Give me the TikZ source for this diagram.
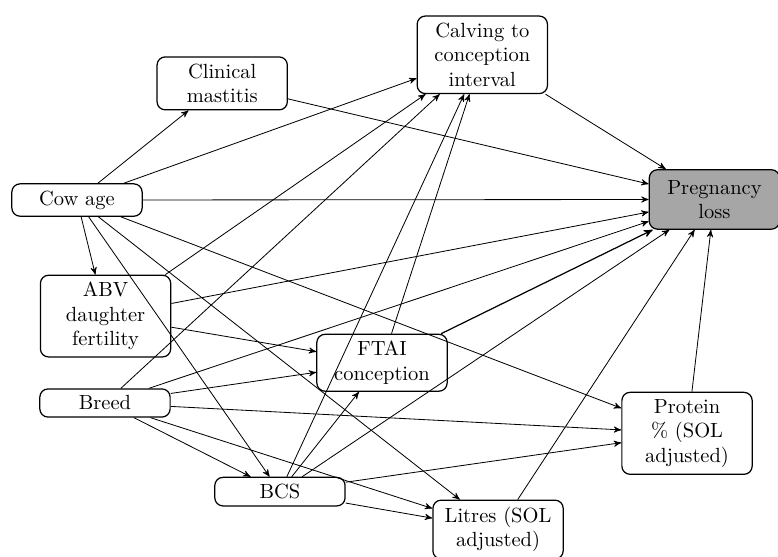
\documentclass[tikz,border=0pt]{standalone}
\usepackage{amsmath}
\usepackage{tikz}
\usetikzlibrary{arrows,positioning}
\tikzset{
    %Define standard arrow tip
    >=stealth',
    %Define style for boxes
    var/.style={
           rectangle,
           rounded corners,
           draw=black, semithick,
           text width=2cm,
           text centered},
    outcome/.style={
           var,
           minimum height=2.9em,
           fill=black!35!white},
}

\begin{document}
\begin{tikzpicture}[->,>=stealth',auto,thin]
\useasboundingbox (0,0) rectangle (13.34,-9.54);

 %nodes
\node[var](1) at (1.32,-3.43){Cow age};
\node[var](2) at (3.81,-1.43){Clinical mastitis};
\node[var](3) at (8.27,-0.94){Calving to conception interval};
\node[outcome](4) at (12.25,-3.42){Pregnancy loss};
\node[var](5) at (1.81,-5.42){ABV daughter fertility};
\node[var](6) at (1.80,-6.91){Breed};
\node[var](7) at (6.55,-6.22){FTAI conception};
\node[var](8) at (4.80,-8.43){BCS};
\node[var](9) at (11.78,-7.43){Protein \% (SOL adjusted)};
\node[var](10) at (8.54,-9.08){Litres (SOL adjusted)};

 \path
    (1) edge (2)
        edge (3)
        edge (4)
        edge (5)
        edge (8)
        edge (10)
        edge (9)
    (2) edge (4)
    (3) edge (4)
    (5) edge (3) edge (4) edge (7)
    (6) edge (3) edge (4) edge (7)
        edge (9) edge (8) edge (10)
    (7) edge (3) edge[semithick] (4)
    (8) edge (7) edge (3) edge (4)
        edge (9) edge (10)
    (10) edge (4)
    (9) edge (4);

\end{tikzpicture}
\end{document}
